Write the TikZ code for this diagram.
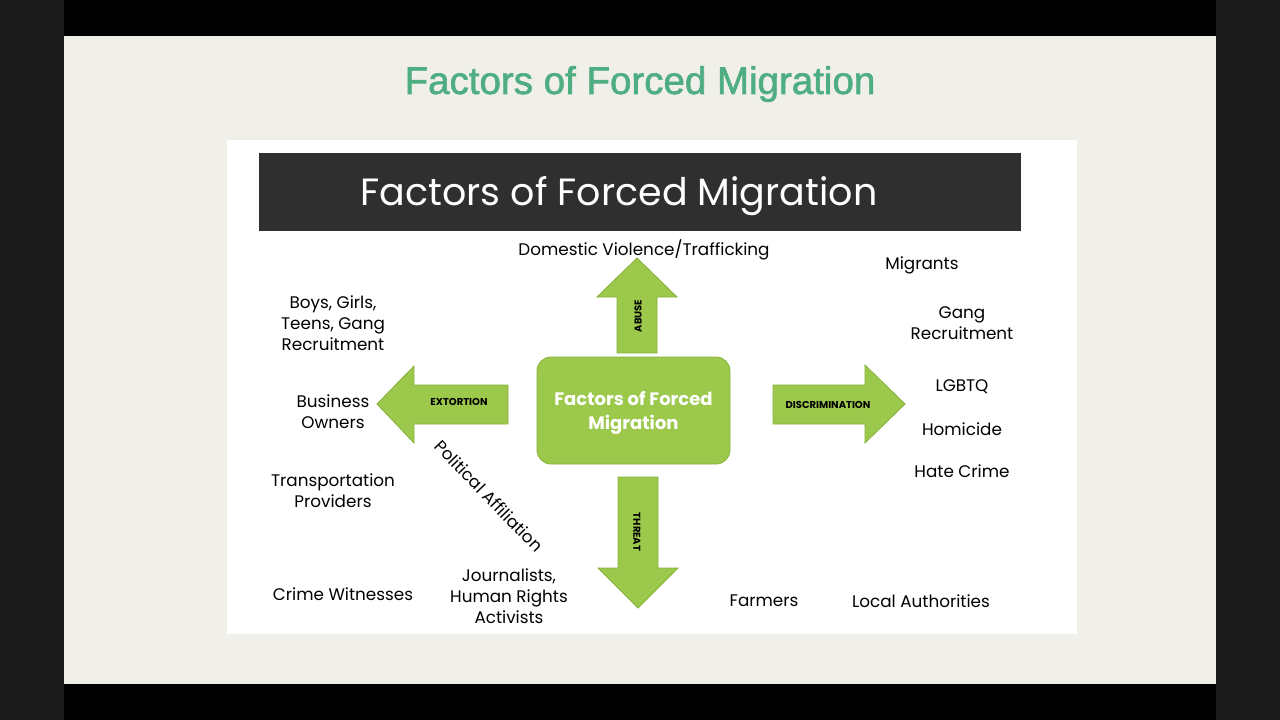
\documentclass[tikz,border=0pt]{standalone}
\usepackage{fontspec}
\setmainfont{Poppins}
\newfontfamily\titlefont[FakeBold=1.6]{Liberation Sans}
\definecolor{outer}{HTML}{1B1B1B}
\definecolor{slide}{HTML}{F1EFE9}
\definecolor{band}{HTML}{2F2F2F}
\definecolor{leaf}{HTML}{9CC84B}
\definecolor{leafedge}{HTML}{86B23A}
\definecolor{titlegreen}{HTML}{4EAE82}
\tikzset{
  lbl/.style={align=center, inner sep=0pt, font=\fontsize{16.8}{20.8}\selectfont, text=black},
  arrowlbl/.style={inner sep=0pt, font=\bfseries\fontsize{10}{12}\selectfont, text=black},
  blockarrow/.style={fill=leaf, draw=leafedge, line width=0.8pt, line join=miter},
}
\begin{document}
\begin{tikzpicture}[x=1pt,y=-1pt]
\useasboundingbox (0,0) rectangle (1280,720);
% frame
\fill[outer] (0,0) rectangle (1280,720);
\fill[black] (64,0) rectangle (1216,36);
\fill[black] (64,684) rectangle (1216,720);
\fill[slide] (64,36) rectangle (1216,684);
\node[text=titlegreen, font=\titlefont\fontsize{38.5}{40}\selectfont, inner sep=0pt] (title) at (640,84) {Factors of Forced Migration};
% white panel
\fill[white] (227,140) rectangle (1077,634);
\fill[band] (259,153) rectangle (1021,231);
\node[text=white, font=\fontsize{38}{42}\selectfont, inner sep=0pt] (head) at (619,196) {Factors of Forced Migration};
% centre box
\node[fill=leaf, draw=leafedge, line width=0.8pt, rounded corners=14pt, minimum width=193pt, minimum height=107pt, text=white, font=\bfseries\fontsize{18}{24}\selectfont, align=center] (core) at (633.5,410.5) {};
\node[text=white, font=\bfseries\fontsize{18}{24}\selectfont, align=center, inner sep=0pt] (coretext) at (633.5,413) {Factors of Forced\\Migration};
% up arrow
\draw[blockarrow] (617,353) -- (617,297) -- (597,297) -- (637,258) -- (677,297) -- (657,297) -- (657,353) -- cycle;
\node[arrowlbl, rotate=90] (abuse) at (638,316) {ABUSE};
% down arrow
\draw[blockarrow] (618,477) -- (658,477) -- (658,568) -- (678,568) -- (638,608) -- (598,568) -- (618,568) -- cycle;
\node[arrowlbl, rotate=-90] (threat) at (637,532) {THREAT};
% left arrow
\draw[blockarrow] (508,385) -- (414,385) -- (414,366) -- (377,404) -- (414,443) -- (414,424) -- (508,424) -- cycle;
\node[arrowlbl] (extortion) at (459,402) {EXTORTION};
% right arrow
\draw[blockarrow] (773,385) -- (865,385) -- (865,365) -- (905,404) -- (865,443) -- (865,424) -- (773,424) -- cycle;
\node[arrowlbl] (discrim) at (828,405) {DISCRIMINATION};
% labels
\node[lbl] (dv) at (644,250) {Domestic Violence/Trafficking};
\node[lbl] (migrants) at (922,265) {Migrants};
\node[lbl] (gang) at (962,323) {Gang\\Recruitment};
\node[lbl] (lgbtq) at (962,387) {LGBTQ};
\node[lbl] (homicide) at (962,429) {Homicide};
\node[lbl] (hate) at (962,471) {Hate Crime};
\node[lbl] (boys) at (333,323) {Boys, Girls,\\Teens, Gang\\Recruitment};
\node[lbl] (business) at (333,412) {Business\\Owners};
\node[lbl] (transport) at (333,491) {Transportation\\Providers};
\node[lbl] (witness) at (343,594) {Crime Witnesses};
\node[lbl] (journal) at (509,596) {Journalists,\\Human Rights\\Activists};
\node[lbl] (farmers) at (764,601) {Farmers};
\node[lbl] (local) at (921,601) {Local Authorities};
\node[lbl, rotate=-46] (political) at (489,496) {Political Affiliation};
\end{tikzpicture}
\end{document}
